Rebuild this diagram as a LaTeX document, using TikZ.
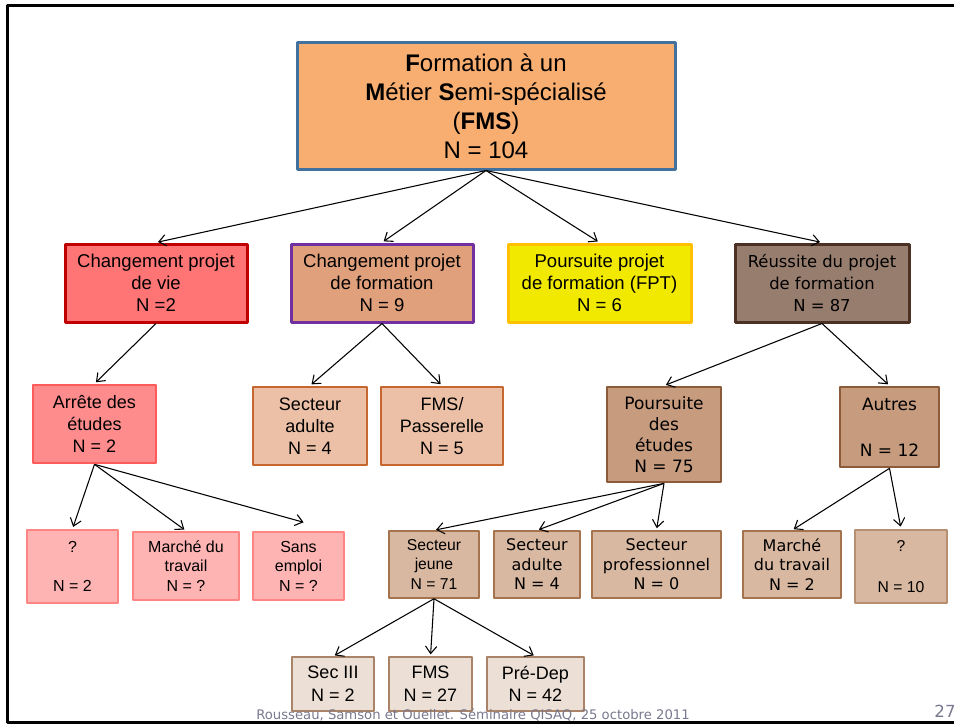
\documentclass[tikz,border=0pt]{standalone}
\usepackage{fontspec}
\setmainfont{Liberation Sans}
\newfontfamily\verd{DejaVu Sans}
\usetikzlibrary{arrows.meta}
% couleurs des boites
\definecolor{fmsfond}{HTML}{F8AE70}
\definecolor{fmsbord}{HTML}{41719C}
\definecolor{viefond}{HTML}{FF7575}
\definecolor{viebord}{HTML}{C00000}
\definecolor{arrfond}{HTML}{FF8C8C}
\definecolor{arrbord}{HTML}{FF5B5B}
\definecolor{rosefond}{HTML}{FFB4B4}
\definecolor{rosebord}{HTML}{FF8585}
\definecolor{formfond}{HTML}{E0A07C}
\definecolor{formbord}{HTML}{7030A0}
\definecolor{saumfond}{HTML}{ECC0A6}
\definecolor{saumbord}{HTML}{C5672F}
\definecolor{fptfond}{HTML}{F1E900}
\definecolor{fptbord}{HTML}{FFC000}
\definecolor{reufond}{HTML}{977D6D}
\definecolor{reubord}{HTML}{4A3123}
\definecolor{brunfond}{HTML}{C69B7E}
\definecolor{brunbord}{HTML}{8C5B3A}
\definecolor{beigefond}{HTML}{D8B8A1}
\definecolor{beigebord}{HTML}{A5744F}
\definecolor{clairfond}{HTML}{ECDFD5}
\definecolor{clairbord}{HTML}{AA8468}
\definecolor{piedpage}{HTML}{78788F}
\begin{document}
\begin{tikzpicture}[x=0.75pt,y=-0.75pt,line join=round,>={Straight Barb[length=5.5pt,width=8.5pt]}]
			\tikzset{boite/.style={draw,rectangle,align=center,inner sep=0pt},
				taille/.style 2 args={minimum width=0.75pt*#1,minimum height=0.75pt*#2},
				niv1/.style={boite,line width=2.25pt,font=\fontsize{18}{21.75}\selectfont},
				niv2/.style={boite,line width=2.25pt,font=\fontsize{13.9}{16.5}\selectfont},
				niv3/.style={boite,line width=2pt,font=\fontsize{13.5}{16.3}\selectfont},
				niv4/.style={boite,line width=1.8pt,font=\fontsize{12}{14.6}\selectfont},
				niv4b/.style={boite,line width=1.1pt,font=\fontsize{12}{14.4}\selectfont},
				niv5/.style={boite,line width=0.9pt,font=\fontsize{13.5}{17}\selectfont},
				fleche/.style={->,line width=0.8pt,shorten >=1.5pt}}
			\useasboundingbox (0,0) rectangle (954,724);
			\draw[line width=2.25pt] (7.5,6) rectangle (962,722.5);
			% niveau 1
			\node[niv1,fill=fmsfond,draw=fmsbord,taille={378}{126}] (fms) at (486,106)
				{\textbf{F}ormation à un\\\textbf{M}étier \textbf{S}emi-spécialisé\\(\textbf{FMS})\\N = 104};
			% niveau 2
			\node[niv2,fill=viefond,draw=viebord,taille={182}{78}] (vie) at (156,283)
				{Changement projet\\de vie\\N =2};
			\node[niv2,fill=formfond,draw=formbord,taille={182}{78}] (form) at (382,283)
				{Changement projet\\de formation\\N = 9};
			\node[niv2,fill=fptfond,draw=fptbord,taille={183}{78}] (fpt) at (599.5,283)
				{Poursuite projet\\de formation (FPT)\\N = 6};
			\node[niv2,fill=reufond,draw=reubord,taille={174}{78},
				font=\verd\fontsize{12.3}{16.5}\selectfont] (reus) at (822,283)
				{Réussite du projet\\de formation\\N = 87};
			% niveau 3
			\node[niv3,fill=arrfond,draw=arrbord,taille={123}{78}] (arret) at (94.5,424)
				{Arrête des\\études\\N = 2};
			\node[niv3,fill=saumfond,draw=saumbord,taille={114}{78}] (sadulte) at (310,426)
				{Secteur\\adulte\\N = 4};
			\node[niv3,fill=saumfond,draw=saumbord,taille={122}{78}] (passer) at (442,426)
				{FMS/\\Passerelle\\N = 5};
			\node[niv3,fill=brunfond,draw=brunbord,taille={114}{95},
				font=\verd\fontsize{12.75}{15.6}\selectfont] (pours) at (664,434.5)
				{Poursuite\\des\\études\\N = 75};
			\node[niv3,fill=brunfond,draw=brunbord,taille={99}{80},
				font=\verd\fontsize{12.75}{17.2}\selectfont] (autres) at (889.5,427)
				{Autres\\~\\N = 12};
			% niveau 4
			\node[niv4,fill=rosefond,draw=rosebord,taille={91}{73}] (inconnu) at (72.5,566.5)
				{?\\~\\N = 2};
			\node[niv4,fill=rosefond,draw=rosebord,taille={106}{68}] (marche) at (186,566)
				{Marché du\\travail\\N = ?};
			\node[niv4,fill=rosefond,draw=rosebord,taille={91}{68}] (sansemp) at (298.5,566)
				{Sans\\emploi\\N = ?};
			\node[niv4b,fill=beigefond,draw=beigebord,taille={90}{67},
				font=\fontsize{11.8}{14.3}\selectfont] (jeune) at (434,564.5)
				{Secteur\\jeune\\N = 71};
			\node[niv4b,fill=beigefond,draw=beigebord,taille={86}{67},
				font=\verd\fontsize{12}{14.6}\selectfont] (adulte) at (537,564.5)
				{Secteur\\adulte\\N = 4};
			\node[niv4b,fill=beigefond,draw=beigebord,taille={129}{67},
				font=\verd\fontsize{12}{14.6}\selectfont] (prof) at (656.5,564.5)
				{Secteur\\professionnel\\N = 0};
			\node[niv4b,fill=beigefond,draw=beigebord,taille={98}{67},
				font=\verd\fontsize{12}{14.6}\selectfont] (travail) at (792,564.5)
				{Marché\\du travail\\N = 2};
			\node[niv4b,fill=beigefond,draw=beigebord!80!white,line width=2.2pt,taille={92}{73},
				font=\fontsize{11.8}{15.5}\selectfont] (autre) at (901,566.5)
				{?\\~\\N = 10};
			% niveau 5
			\node[niv5,fill=clairfond,draw=clairbord,taille={82}{54}] (sec3) at (333,684)
				{Sec III\\N = 2};
			\node[niv5,fill=clairfond,draw=clairbord,taille={83}{54}] (fmsb) at (430.5,684)
				{FMS\\N = 27};
			\node[niv5,fill=clairfond,draw=clairbord,taille={97}{54}] (predep) at (535.5,684)
				{Pré-Dep\\N = 42};
			% fleches
			\foreach \a/\b in {fms/vie,fms/form,fms/fpt,fms/reus,vie/arret,form/sadulte,form/passer,
				reus/pours,reus/autres,arret/inconnu,arret/marche,pours/jeune,pours/adulte,
				pours/prof,autres/travail,autres/autre,jeune/sec3,jeune/fmsb,jeune/predep}
			\draw[fleche] (\a.south) -- (\b.north);
			\draw[fleche] (arret.south) -- ([shift={(7,-8)}]sansemp.north);
			% pied de page
			\node[font=\verd\fontsize{9.9}{11}\selectfont,text=piedpage] (source) at (473,715)
				{Rousseau, Samson et Ouellet. Séminaire QISAQ, 25 octobre 2011};
			\node[font=\verd\fontsize{12.5}{14}\selectfont,text=piedpage] (page) at (945,711) {27};
		\end{tikzpicture}
\end{document}
